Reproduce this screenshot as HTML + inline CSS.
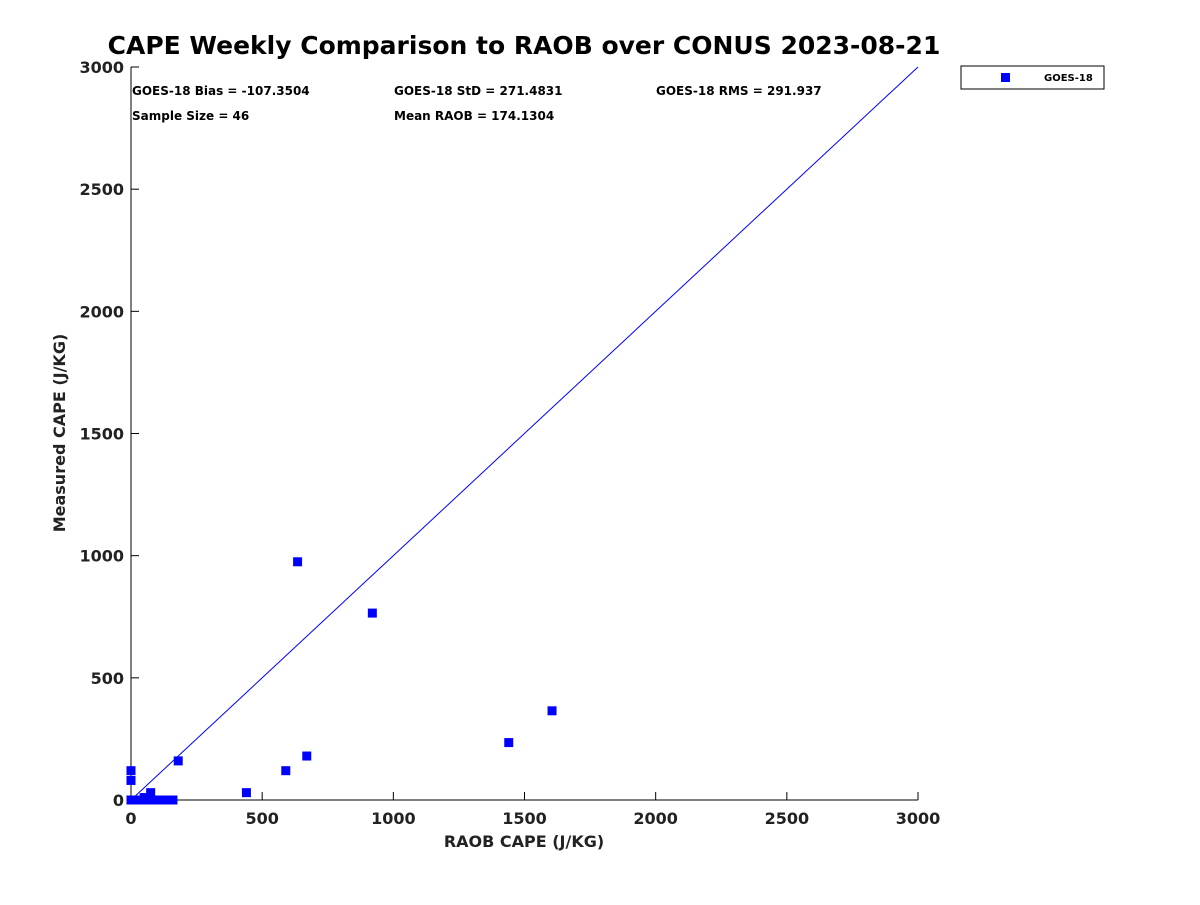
<!DOCTYPE html>
<html><head><meta charset="utf-8"><style>
body{margin:0;background:#fff;font-family:"Liberation Sans","DejaVu Sans",sans-serif;}
</style></head><body>
<svg id="chart" width="1200" height="900" xmlns="http://www.w3.org/2000/svg" font-family="'DejaVu Sans','Liberation Sans',sans-serif">
<rect width="1200" height="900" fill="#fff"/>
<text x="524" y="54" text-anchor="middle" font-size="25" font-weight="bold" fill="#000">CAPE Weekly Comparison to RAOB over CONUS 2023-08-21</text>
<g id="axes"></g>
<g id="marks"></g>
<g font-size="12" font-weight="bold" fill="#000">
<text x="132" y="95">GOES-18 Bias = -107.3504</text>
<text x="394" y="95">GOES-18 StD = 271.4831</text>
<text x="656" y="95">GOES-18 RMS = 291.937</text>
<text x="132" y="120">Sample Size = 46</text>
<text x="394" y="120">Mean RAOB = 174.1304</text>
</g>
<g>
<rect x="961" y="66" width="143" height="23" fill="#fff" stroke="#000" stroke-width="1"/>
<rect x="1001" y="73" width="9" height="9" fill="#0000ff"/>
<text x="1044" y="81" font-size="10" font-weight="bold" fill="#000">GOES-18</text>
</g>
<text x="524" y="847" text-anchor="middle" font-size="16" font-weight="bold" fill="#222">RAOB CAPE (J/KG)</text>
<text transform="translate(65,433) rotate(-90)" text-anchor="middle" font-size="16" font-weight="bold" fill="#222">Measured CAPE (J/KG)</text>
</svg>
<script>
const xTicks=[0,500,1000,1500,2000,2500,3000];
const yTicks=[0,500,1000,1500,2000,2500,3000];
const raobValues=[0,0,180,440,590,670,635,920,1440,1605,75,50,0,10,20,30,40,60,70,80,90,120,130,140,150,160,5,15,25,35,45,55,65,85,0,0,0,0,0,0,0,0,0,0,0,0];
const goesValues=[120,80,160,30,120,180,975,765,235,365,30,10,0,0,0,0,0,0,0,0,0,0,0,0,0,0,0,0,0,0,0,0,0,0,0,0,0,0,0,0,0,0,0,0,0,0];
const X0=131,X1=918,Y0=800,Y1=67;
const sx=v=>X0+(v-0)/(3000)*(X1-X0);
const sy=v=>Y0-(v-0)/(3000)*(Y0-Y1);
const NS="http://www.w3.org/2000/svg";
const axes=document.getElementById('axes'),marks=document.getElementById('marks');
function mk(tag,attrs,parent){const e=document.createElementNS(NS,tag);for(const k in attrs)e.setAttribute(k,attrs[k]);parent.appendChild(e);return e;}
const xa=mk('line',{x1:X0,y1:Y0,x2:X1,y2:Y0,stroke:'#000','stroke-width':1},axes);


const ya=mk('line',{x1:X0,y1:Y0,x2:X0,y2:Y1,stroke:'#000','stroke-width':1},axes);


xTicks.forEach(t=>{
  mk('line',{x1:sx(t),y1:Y0,x2:sx(t),y2:Y0-8,stroke:'#000'},axes);
  const tx=mk('text',{x:sx(t),y:Y0+24,'text-anchor':'middle','font-size':16,'font-weight':'bold',fill:'#222'},axes);
  tx.textContent=t;
  
  
});
yTicks.forEach(t=>{
  mk('line',{x1:X0,y1:sy(t),x2:X0+8,y2:sy(t),stroke:'#000'},axes);
  const tx=mk('text',{x:X0-7,y:sy(t)+6,'text-anchor':'end','font-size':16,'font-weight':'bold',fill:'#222'},axes);
  tx.textContent=t;
  
  
});
const ref=mk('line',{x1:sx(0),y1:sy(0),x2:sx(3000),y2:sy(3000),stroke:'#0000ff','stroke-width':1},marks);


raobValues.forEach((r,i)=>{
  const p=mk('rect',{x:sx(r)-4.5,y:sy(goesValues[i])-4.5,width:9,height:9,fill:'#0000ff'},marks);
  
  
});
</script>
</body></html>
